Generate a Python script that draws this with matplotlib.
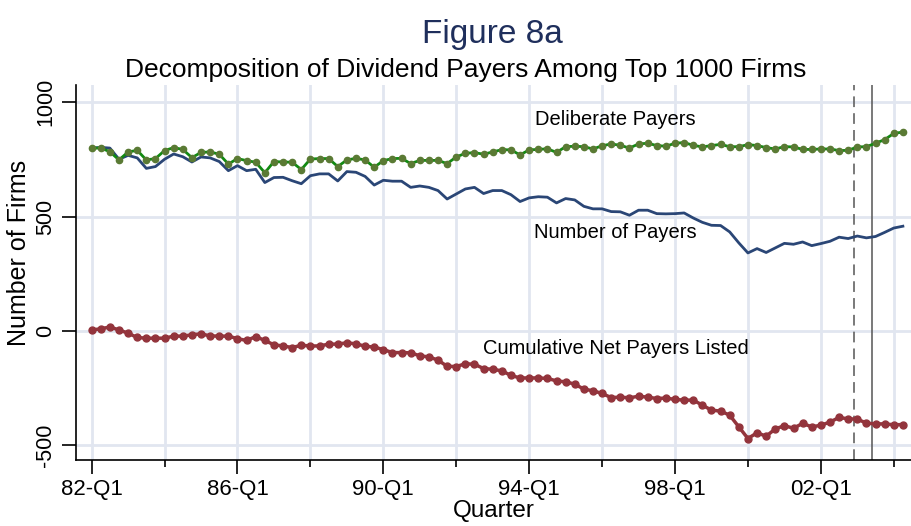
import numpy as np
import matplotlib
matplotlib.use("Agg")
from matplotlib import pyplot as plt

plt.rcParams['font.family'] = ['Liberation Sans', 'DejaVu Sans']

# quarterly series, 82-Q1 .. 04-Q2
deliberate = [800, 800, 784, 748, 783, 790, 748, 754, 789, 802,
              794, 758, 781, 783, 773, 730, 754, 745, 738, 692,
              741, 739, 738, 706, 752, 754, 754, 719, 748, 755,
              748, 716, 745, 754, 755, 732, 746, 746, 746, 732,
              761, 777, 780, 773, 783, 793, 792, 770, 792, 794,
              797, 781, 806, 808, 806, 796, 810, 818, 812, 800,
              818, 821, 811, 808, 821, 824, 812, 805, 811, 816,
              806, 806, 815, 811, 802, 796, 806, 805, 794, 794,
              796, 796, 789, 790, 805, 806, 821, 837, 864, 870]
payers = [800, 803, 800, 751, 768, 757, 711, 719, 751, 774,
          762, 739, 761, 757, 741, 701, 723, 701, 707, 649,
          671, 672, 657, 644, 679, 687, 687, 656, 697, 694,
          676, 638, 659, 655, 655, 628, 634, 628, 614, 577,
          599, 621, 628, 601, 614, 614, 596, 566, 582, 587,
          585, 560, 579, 573, 545, 534, 534, 522, 521, 506,
          528, 528, 513, 512, 513, 516, 494, 475, 462, 461,
          433, 385, 341, 360, 343, 363, 383, 379, 389, 373,
          382, 392, 410, 404, 415, 407, 413, 431, 450, 458]
cum_net = [4, 9, 17, 4, -10, -29, -32, -32, -32, -23,
           -23, -17, -13, -22, -23, -23, -34, -42, -25, -42,
           -61, -66, -73, -63, -66, -66, -58, -58, -52, -57,
           -67, -71, -82, -95, -95, -96, -109, -114, -128, -155,
           -156, -144, -146, -165, -168, -175, -195, -206, -206, -206,
           -208, -219, -223, -233, -255, -262, -274, -292, -290, -293,
           -286, -290, -296, -294, -300, -303, -303, -325, -347, -351,
           -369, -420, -471, -446, -461, -429, -415, -426, -405, -420,
           -413, -399, -379, -385, -386, -404, -407, -407, -411, -410]

q = np.arange(len(deliberate))
major_q = [0, 16, 32, 48, 64, 80]
major_lab = ['82-Q1', '86-Q1', '90-Q1', '94-Q1', '98-Q1', '02-Q1']
minor_q = [8, 24, 40, 56, 72, 88]
yticks = [-500, 0, 500, 1000]
vline_dash = 83.6
vline_solid = 85.6

fig = plt.figure(figsize=(9.12, 5.26), dpi=100)
ax = fig.add_axes([0.083, 0.1255, 0.917, 0.7125])

grid_c = '#e1e6f0'
for x in major_q + minor_q:
    ax.axvline(x, color=grid_c, lw=2, zorder=0)
for y in yticks:
    ax.axhline(y, color=grid_c, lw=2, zorder=0)

ax.plot(q, payers, color='#2a4676', lw=2, zorder=3)
ax.plot(q, deliberate, color='#118a11', lw=2, marker='o', ms=4.5,
        mfc='#5a7a34', mec='#5a7a34', zorder=4)
ax.plot(q, cum_net, color='#93343c', lw=2.5, marker='o', ms=5,
        mfc='#93343c', mec='#93343c', zorder=4)

ax.axvline(vline_dash, color='#555555', lw=1.1, ls=(0, (7, 4)), zorder=2)
ax.axvline(vline_solid, color='#555555', lw=1.1, zorder=2)

ax.text(57.5, 925, 'Deliberate Payers', fontsize=14.5, ha='center', va='center')
ax.text(57.5, 430, 'Number of Payers', fontsize=14.5, ha='center', va='center')
ax.text(57.5, -75, 'Cumulative Net Payers Listed', fontsize=14.5, ha='center', va='center')

ax.set_xlim(-1.75, 90)
ax.set_ylim(-565, 1075)
ax.set_xticks(major_q)
ax.set_xticklabels(major_lab, fontsize=16)
ax.set_xticks(minor_q, minor=True)
ax.set_yticks(yticks)
ax.set_yticklabels([str(v) for v in yticks], fontsize=15.5, rotation=90, va='center')
ax.tick_params(axis='x', which='major', length=10, width=1.2, pad=4)
ax.tick_params(axis='x', which='minor', length=5, width=1.2)
ax.tick_params(axis='y', length=10, width=1.2, pad=4)
for s in ['top', 'right']:
    ax.spines[s].set_visible(False)
for s in ['left', 'bottom']:
    ax.spines[s].set_linewidth(1.2)

ax.set_xlabel('Quarter', fontsize=17.5, labelpad=-0.5)
fig.text(0.021, 0.52, 'Number of Firms', fontsize=18, rotation=90,
         ha='center', va='center')

fig.text(0.4627, 0.919, 'Figure 8a', fontsize=24, color='#1f2f5c',
         ha='left', va='baseline')
fig.text(0.137, 0.854, 'Decomposition of Dividend Payers Among Top 1000 Firms',
         fontsize=19, ha='left', va='baseline')

fig.savefig('out.png', dpi=100)
